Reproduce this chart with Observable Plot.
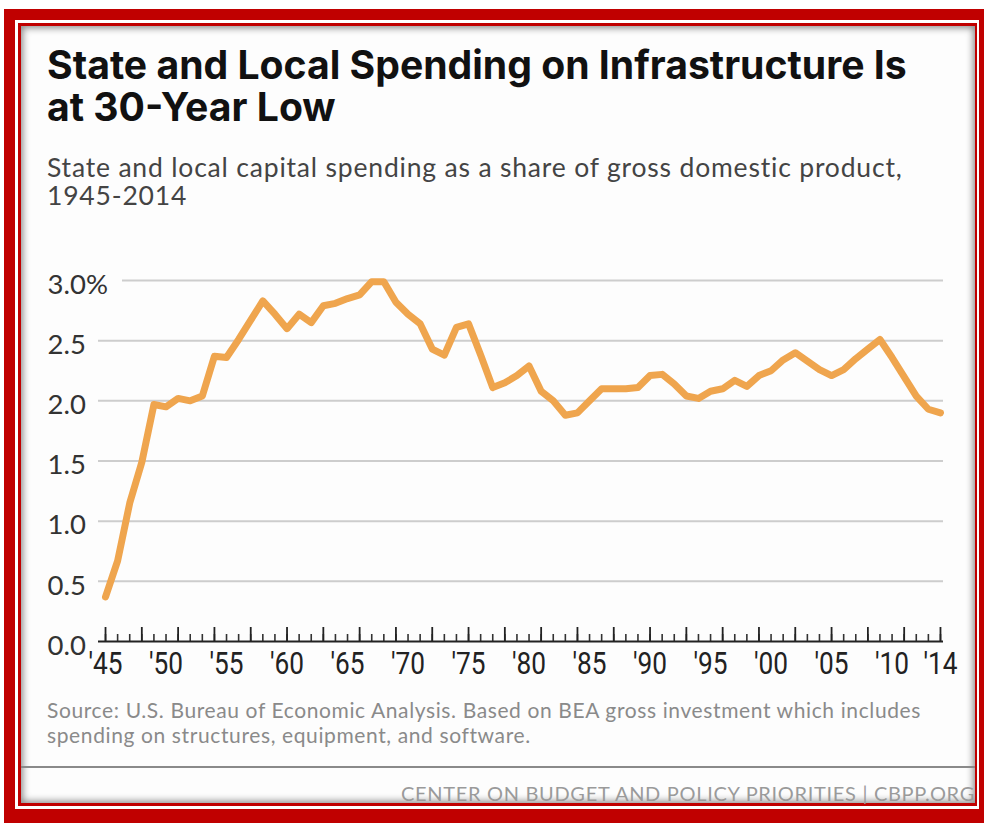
<!DOCTYPE html>
<html><head><meta charset="utf-8">
<script src="https://cdn.jsdelivr.net/npm/d3@7"></script>
<script src="https://cdn.jsdelivr.net/npm/@observablehq/plot@0.6"></script>
<style>
body{margin:0;width:984px;height:823px;position:relative;background:#fff;overflow:hidden;font-family:Lato,"Open Sans",sans-serif}
.abs{position:absolute}
.ln{position:absolute;white-space:nowrap;top:0;left:0}
.title{font-family:Inter,"Open Sans",sans-serif;font-weight:700;font-size:32px;line-height:42.5px;color:#111}
.sub{font-size:26.5px;line-height:28px;color:#444}
.src{font-size:21px;line-height:25.5px;color:#8a8a8a}
.foot{font-size:20px;line-height:22px;color:#9a9a9a}
#chart{position:absolute;left:0;top:240px}
</style></head><body>
<div class="abs" style="left:4px;top:9px;width:980px;height:814px;background:#c00000"></div>
<div class="abs" style="left:15px;top:20px;width:964px;height:789px;background:#fff"></div>
<div class="abs" style="left:18px;top:23px;width:959px;height:783px;background:#c00000"></div>
<div class="abs" style="left:21px;top:26px;width:954px;height:777px;background:#fdfdfd;box-shadow:inset 0 0 7px 2px rgba(0,0,0,0.45)"></div>
<div class="ln title" id="t1">State and Local Spending on Infrastructure Is at 30-Year Low</div>
<div class="ln sub" id="s1">State and local capital spending as a share of gross domestic product, 1945-2014</div>
<div id="chart"></div>
<div class="ln src" id="c1">Source: U.S. Bureau of Economic Analysis. Based on BEA gross investment which includes spending on structures, equipment, and software.</div>
<div class="abs" style="left:21px;top:766px;width:954px;height:0;border-top:2px solid #8a8a8a"></div>
<div class="ln foot" id="f1">CENTER ON BUDGET AND POLICY PRIORITIES | CBPP.ORG</div>
<script>
const years = [1945,1946,1947,1948,1949,1950,1951,1952,1953,1954,1955,1956,1957,1958,1959,
  1960,1961,1962,1963,1964,1965,1966,1967,1968,1969,1970,1971,1972,1973,1974,1975,1976,1977,1978,1979,
  1980,1981,1982,1983,1984,1985,1986,1987,1988,1989,1990,1991,1992,1993,1994,1995,1996,1997,1998,1999,
  2000,2001,2002,2003,2004,2005,2006,2007,2008,2009,2010,2011,2012,2013,2014];
const values = [0.37,0.67,1.15,1.49,1.97,1.95,2.02,2.00,2.04,2.37,2.36,2.51,2.67,2.83,2.72,
  2.60,2.72,2.65,2.79,2.81,2.85,2.88,2.99,2.99,2.82,2.72,2.64,2.43,2.38,2.61,2.64,2.38,2.11,2.15,2.21,
  2.29,2.08,2.00,1.88,1.90,2.00,2.10,2.10,2.10,2.11,2.21,2.22,2.14,2.04,2.02,2.08,2.10,2.17,2.12,2.21,
  2.25,2.34,2.40,2.33,2.26,2.21,2.26,2.35,2.43,2.51,2.36,2.20,2.04,1.93,1.90];
const majorTickYears = [1945,1948,1951,1954,1957,1960,1963,1966,1969,1972,1975,1978,1981,1984,1987,1990,1993,1996,1999,2002,2005,2008,2011,2014];
const xLabelYears = [1945,1950,1955,1960,1965,1970,1975,1980,1985,1990,1995,2000,2005,2010,2014];
const xLabels = ["'45","'50","'55","'60","'65","'70","'75","'80","'85","'90","'95","'00","'05","'10","'14"];
const yTicks = [0,0.5,1,1.5,2,2.5,3];
const yLabels = ["0.0","0.5","1.0","1.5","2.0","2.5","3.0%"];
const gridValues = [0.5,1,1.5,2,2.5];
const topGrid = [3];

// text layout helper: fit first line width (by font size or letter spacing), wrap, set baseline
function placeBlock(id, {left, right, baseline, width, mode, firstLine}) {
  const el = document.getElementById(id);
  const probe = el.cloneNode(false);
  probe.removeAttribute("id");
  probe.textContent = firstLine || el.textContent;
  probe.style.visibility = "hidden";
  document.body.appendChild(probe);
  if (mode === "size") {
    const w = probe.getBoundingClientRect().width;
    const fs = parseFloat(getComputedStyle(probe).fontSize);
    el.style.fontSize = probe.style.fontSize = (fs * width / w) + "px";
  } else if (mode === "spacing") {
    const w = probe.getBoundingClientRect().width;
    el.style.letterSpacing = probe.style.letterSpacing = ((width - w) / probe.textContent.length) + "px";
  }
  const w1 = probe.getBoundingClientRect().width;
  probe.remove();
  if (firstLine) { el.style.whiteSpace = "normal"; el.style.width = (w1 + 4) + "px"; }
  const m = document.createElement("span");
  m.style.cssText = "display:inline-block;width:0;height:0";
  el.insertBefore(m, el.firstChild);
  const b = m.getBoundingClientRect().top - el.getBoundingClientRect().top;
  m.remove();
  el.style.top = (baseline - b) + "px";
  el.style.left = (right !== undefined ? right - w1 : left) + "px";
}
placeBlock("t1", {left: 47, baseline: 78.5, width: 860, mode: "size", firstLine: "State and Local Spending on Infrastructure Is"});
placeBlock("s1", {left: 47, baseline: 177, width: 856, mode: "spacing", firstLine: "State and local capital spending as a share of gross domestic product,"});
placeBlock("c1", {left: 47, baseline: 717.5, width: 874, mode: "spacing", firstLine: "Source: U.S. Bureau of Economic Analysis. Based on BEA gross investment which includes"});
placeBlock("f1", {right: 975, baseline: 801, width: 574, mode: "spacing"});

const data = years.map((year, i) => ({year, value: values[i]}));
const H = 460, MT = 40, MB = 59;
const frameH = H - MT - MB;

const chart = Plot.plot({
  width: 984, height: H,
  marginTop: MT, marginBottom: MB, marginLeft: 98, marginRight: 41,
  x: {domain: [1944.42, 2014.25], axis: null},
  y: {domain: [0, 3], axis: null},
  style: {background: "transparent", overflow: "visible"},
  marks: [
    Plot.ruleY(gridValues, {stroke: "#cdcdcd", strokeWidth: 2}),
    Plot.ruleY(topGrid, {stroke: "#cdcdcd", strokeWidth: 2, insetLeft: 24}),
    Plot.ruleX(years, {x: d => d, stroke: "#333", strokeWidth: 1.6, insetTop: frameH - 7}),
    Plot.ruleX(majorTickYears, {x: d => d, stroke: "#222", strokeWidth: 1.8, insetTop: frameH - 14}),
    Plot.ruleY([0], {stroke: "#222", strokeWidth: 2}),
    Plot.text(yTicks, {y: d => d, text: (d, i) => yLabels[i], frameAnchor: "left", textAnchor: "start", dx: -51, dy: 4.5, fontSize: 27.5, fill: "#333", fontFamily: "Lato, sans-serif"}),
    Plot.text(xLabelYears, {x: d => d, text: (d, i) => xLabels[i], frameAnchor: "bottom", lineAnchor: "top", dy: 10.5, fontSize: 30.5, fill: "#222", fontFamily: "Roboto, sans-serif"}),
    Plot.line(data, {x: "year", y: "value", stroke: "#efa54e", strokeWidth: 7, strokeLinejoin: "round", strokeLinecap: "round"})
  ]
});
document.getElementById("chart").appendChild(chart);
// condense the year labels
chart.querySelectorAll("text").forEach(t => {
  if (t.textContent.startsWith("'")) {
    const w = t.getComputedTextLength();
    t.setAttribute("textLength", (w * 0.86).toFixed(1));
    t.setAttribute("lengthAdjust", "spacingAndGlyphs");
  }
});
</script>
</body></html>
